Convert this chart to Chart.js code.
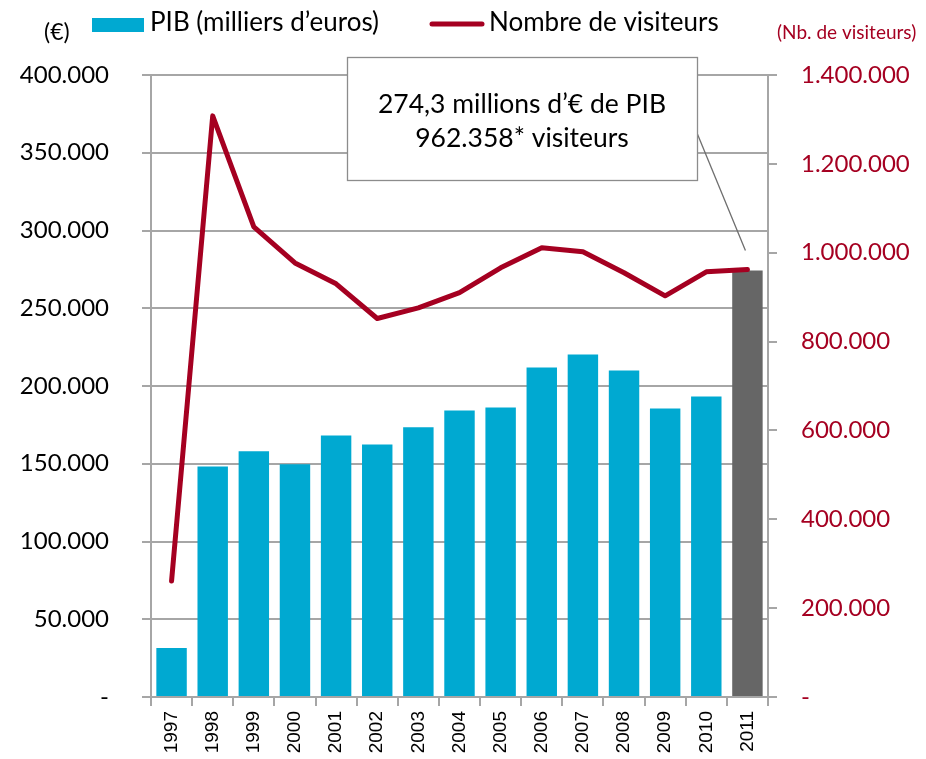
<!DOCTYPE html>
<html>
<head>
<meta charset="utf-8">
<script src="https://cdn.jsdelivr.net/npm/chart.js@4.4.1/dist/chart.umd.min.js"></script>
<style>
  html, body { margin: 0; padding: 0; background: #ffffff; }
  #wrap { position: relative; width: 926px; height: 759px; }
</style>
</head>
<body>
<div id="wrap"><canvas id="pibChart" width="926" height="759"></canvas></div>
<script>
// data
const years = ["1997", "1998", "1999", "2000", "2001", "2002", "2003", "2004",
               "2005", "2006", "2007", "2008", "2009", "2010", "2011"];
const pibValues = [31500, 148300, 158000, 149600, 168200, 162400, 173400, 184300,
                   186200, 211900, 220200, 210000, 185600, 193300, 274300];
const visitorValues = [261000, 1308000, 1058000, 977000, 930000, 852000, 876000, 910000,
                       966000, 1011000, 1002000, 955000, 903000, 957000, 962358];
const pibLabel = "PIB (milliers d’euros)";
const visitorLabel = "Nombre de visiteurs";
const leftUnit = "(€)";
const rightUnit = "(Nb. de visiteurs)";
const calloutLines = ["274,3 millions d’€ de PIB", "962.358* visiteurs"];

const BLUE = "#00A9D1";
const GREY_BAR = "#666666";
const RED = "#A50021";
const GRID = "#A6A6A6";
const TEXT_FONT = "Lato, 'Open Sans', sans-serif";

// 400000 -> "400.000", 0 -> "-"
function formatThousands(v) {
    if (v === 0) return "-";
    return String(Math.round(v)).replace(/\B(?=(\d{3})+(?!\d))/g, ".");
}

// draws the legend, axis units and the 2011 callout box
const decorPlugin = {
    id: "decor",
    afterDraw(chart) {
        const ctx = chart.ctx;
        const ds = chart.data.datasets;
        ctx.save();

        // legend
        ctx.fillStyle = BLUE;
        ctx.fillRect(92, 18, 52, 14);
        ctx.fillStyle = "#000";
        ctx.font = "26px " + TEXT_FONT;
        ctx.textBaseline = "middle";
        ctx.textAlign = "left";
        ctx.fillText(ds[1].label, 150, 23);

        ctx.strokeStyle = RED;
        ctx.lineWidth = 5;
        ctx.lineCap = "round";
        ctx.beginPath();
        ctx.moveTo(432, 24);
        ctx.lineTo(482, 24);
        ctx.stroke();
        ctx.fillText(ds[0].label, 489, 23);

        // axis units
        ctx.font = "23px " + TEXT_FONT;
        ctx.fillText(leftUnit, 44, 33);
        ctx.fillStyle = RED;
        ctx.font = "19px " + TEXT_FONT;
        ctx.fillText(rightUnit, 777, 33);

        // callout box for the last year
        const last = years.length - 1;
        const px = chart.scales.x.getPixelForValue(last);
        const py = chart.scales.y1.getPixelForValue(visitorValues[last]);
        const bx = 347, by = 57, bw = 350, bh = 123;
        ctx.strokeStyle = "#6E6E6E";
        ctx.lineWidth = 1.3;
        ctx.lineCap = "butt";
        ctx.beginPath();
        ctx.moveTo(bx + bw, by + 76);
        ctx.lineTo(px - 2, py - 19);
        ctx.stroke();
        ctx.fillStyle = "#fff";
        ctx.fillRect(bx, by, bw, bh);
        ctx.strokeStyle = "#8C8C8C";
        ctx.strokeRect(bx + 0.5, by + 0.5, bw, bh);
        ctx.fillStyle = "#000";
        ctx.font = "26.5px " + TEXT_FONT;
        ctx.textAlign = "center";
        ctx.fillText(calloutLines[0], bx + bw / 2, by + 47);
        ctx.fillText(calloutLines[1], bx + bw / 2, by + 81);

        ctx.restore();
    }
};

const ctx = document.getElementById("pibChart").getContext("2d");
const pibChart = new Chart(ctx, {
    type: "bar",
    data: {
        labels: years,
        datasets: [
            {
                type: "line",
                label: visitorLabel,
                data: visitorValues,
                yAxisID: "y1",
                borderColor: RED,
                borderWidth: 5,
                pointRadius: 0,
                tension: 0,
                borderJoinStyle: "round",
                borderCapStyle: "round",
                order: 0,
            },
            {
                label: pibLabel,
                data: pibValues,
                yAxisID: "y",
                backgroundColor: (c) => (c.dataIndex === years.length - 1 ? GREY_BAR : BLUE),
                categoryPercentage: 1.0,
                barPercentage: 0.74,
                order: 1,
            },
        ],
    },
    options: {
        responsive: false,
        animation: false,
        layout: { padding: { top: 75, right: 0, left: 0, bottom: 0 } },
        plugins: {
            legend: { display: false },
            tooltip: { enabled: false },
        },
        scales: {
            x: {
                grid: {
                    offset: true,
                    drawOnChartArea: false,
                    drawTicks: true,
                    tickLength: 9,
                    color: GRID,
                    lineWidth: 2,
                },
                border: { color: GRID, width: 2 },
                ticks: {
                    color: "#000",
                    font: { family: "'Liberation Sans', Arial, sans-serif", size: 19 },
                    minRotation: 90,
                    maxRotation: 90,
                    padding: 5,
                    autoSkip: false,
                },
                afterFit(scale) { scale.height = 62; },
            },
            y: {
                position: "left",
                min: 0,
                max: 400000,
                ticks: {
                    stepSize: 50000,
                    color: "#000",
                    font: { family: TEXT_FONT, size: 24 },
                    padding: 33,
                    callback: (v) => formatThousands(v),
                },
                grid: { color: GRID, lineWidth: 2, tickLength: 9 },
                border: { color: GRID, width: 2 },
                afterFit(scale) { scale.width = 151; },
            },
            y1: {
                position: "right",
                min: 0,
                max: 1400000,
                ticks: {
                    stepSize: 200000,
                    color: RED,
                    font: { family: TEXT_FONT, size: 24 },
                    padding: 24,
                    callback: (v) => formatThousands(v),
                },
                grid: { drawOnChartArea: false, color: GRID, lineWidth: 2, tickLength: 9 },
                border: { color: GRID, width: 2 },
                afterFit(scale) { scale.width = 158; },
            },
        },
    },
    plugins: [decorPlugin],
});
</script>
</body>
</html>
